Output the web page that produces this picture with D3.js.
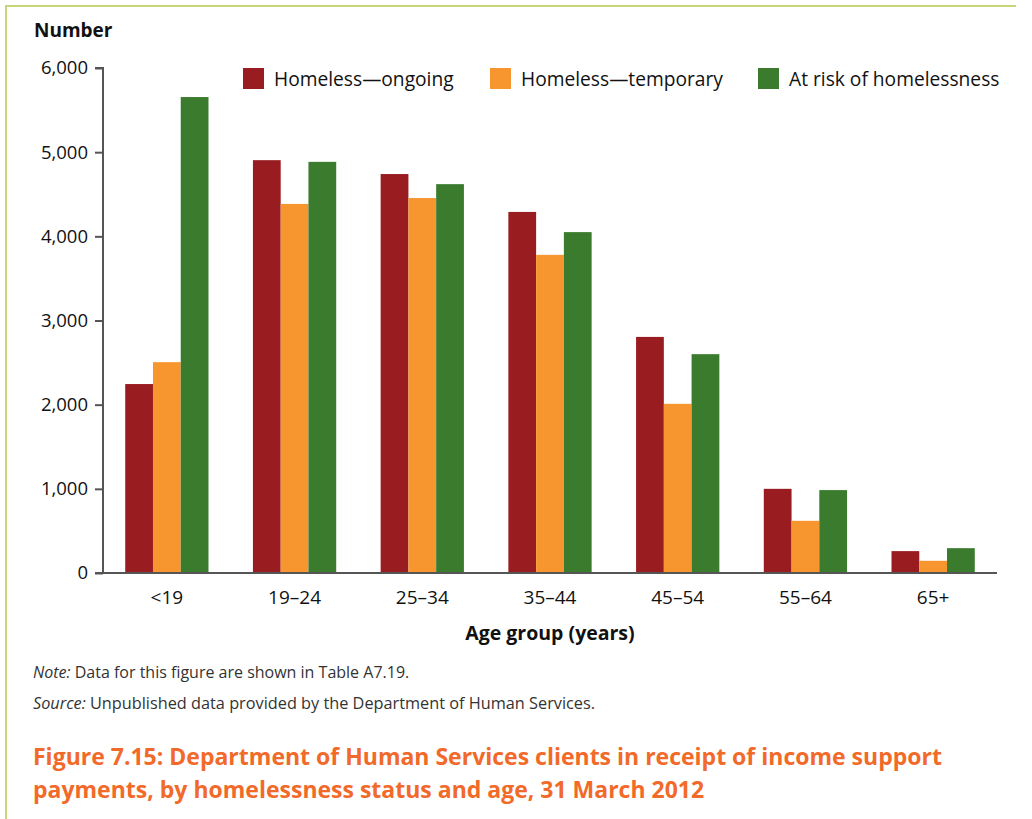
<!DOCTYPE html>
<html>
<head>
<meta charset="utf-8">
<script src="https://cdn.jsdelivr.net/npm/d3@7"></script>
<style>
  html, body { margin: 0; padding: 0; background: #fff; }
  svg { display: block; }
  text { font-family: "Open Sans", "Noto Sans", sans-serif; }
</style>
</head>
<body>
<svg id="chart" width="1032" height="819"></svg>
<script>
// Age groups and client counts by homelessness status
const ageGroups = ["<19", "19–24", "25–34", "35–44", "45–54", "55–64", "65+"];
const seriesNames = ["Homeless—ongoing", "Homeless—temporary", "At risk of homelessness"];
const ongoing   = [2245, 4905, 4740, 4290, 2805, 1000, 260];
const temporary = [2505, 4385, 4455, 3780, 2010,  620, 145];
const atRisk    = [5655, 4885, 4620, 4050, 2600,  985, 295];
const yTicks = [0, 1000, 2000, 3000, 4000, 5000, 6000];
const seriesColors = ["#991c20", "#f7962f", "#3a7b2d"];

const values = [ongoing, temporary, atRisk];
const data = ageGroups.map((g, i) => ({
  group: g,
  bars: seriesNames.map((s, j) => ({ key: s, value: values[j][i] }))
}));

const svg = d3.select("#chart");

// frame lines along the top and left edges
svg.append("line").attr("x1", 6).attr("y1", 6).attr("x2", 1016).attr("y2", 6)
  .attr("stroke", "#c7d67a").attr("stroke-width", 2);
svg.append("line").attr("x1", 6).attr("y1", 5).attr("x2", 6).attr("y2", 819)
  .attr("stroke", "#c7d67a").attr("stroke-width", 2);

const plotLeft = 103, plotRight = 997, plotTop = 68, plotBottom = 573;

const x0 = d3.scaleBand().domain(ageGroups).range([plotLeft, plotRight])
  .paddingInner(0.348).paddingOuter(0.174);
const x1 = d3.scaleBand().domain(seriesNames).range([0, x0.bandwidth()]);
const y = d3.scaleLinear().domain([0, 6000]).range([plotBottom, plotTop]);
const color = d3.scaleOrdinal().domain(seriesNames).range(seriesColors);

// bars
const groups = svg.append("g").selectAll("g").data(data).join("g")
  .attr("transform", d => `translate(${x0(d.group)},0)`);
groups.selectAll("rect").data(d => d.bars).join("rect")
  .attr("x", d => x1(d.key))
  .attr("width", x1.bandwidth())
  .attr("y", d => y(d.value))
  .attr("height", d => y(0) - y(d.value))
  .attr("fill", d => color(d.key));

// y axis
const yAxis = svg.append("g").attr("transform", `translate(${plotLeft},0)`)
  .call(d3.axisLeft(y).tickValues(yTicks).tickSize(8).tickPadding(7)
    .tickFormat(d3.format(",")));
yAxis.select(".domain").attr("stroke", "#555").attr("stroke-width", 2)
  .attr("d", `M-8,${plotTop}H0V${plotBottom}`);
yAxis.selectAll(".tick line").attr("stroke", "#555").attr("stroke-width", 2);
yAxis.selectAll(".tick text").attr("font-size", 18.5).attr("fill", "#111")
  .attr("font-family", "'Open Sans', sans-serif");

// x axis
const xAxis = svg.append("g").attr("transform", `translate(0,${plotBottom})`)
  .call(d3.axisBottom(x0).tickSize(0).tickPadding(18));
xAxis.select(".domain").attr("stroke", "#555").attr("stroke-width", 2)
  .attr("d", `M${plotLeft - 8},0H${plotRight}`);
xAxis.selectAll(".tick text").attr("font-size", 19).attr("fill", "#111")
  .attr("font-family", "'Open Sans', sans-serif");

// axis titles
svg.append("text").attr("x", 34).attr("y", 37)
  .attr("font-size", 19).attr("font-weight", "bold").attr("fill", "#111")
  .text("Number");
svg.append("text").attr("x", (plotLeft + plotRight) / 2).attr("y", 640)
  .attr("text-anchor", "middle")
  .attr("font-size", 19.5).attr("font-weight", "bold").attr("fill", "#111")
  .text("Age group (years)");

// legend
const legendX = [243, 490, 758];
const legend = svg.append("g").selectAll("g").data(seriesNames).join("g")
  .attr("transform", (d, i) => `translate(${legendX[i]},68)`);
legend.append("rect").attr("width", 21).attr("height", 21)
  .attr("fill", d => color(d));
legend.append("text").attr("x", 31).attr("y", 18)
  .attr("font-size", 19.2).attr("fill", "#111").text(d => d);

// notes
const note = svg.append("text").attr("x", 33).attr("y", 678)
  .attr("font-size", 16).attr("fill", "#333");
note.append("tspan").attr("font-style", "italic").text("Note:");
note.append("tspan").text(" Data for this figure are shown in Table A7.19.");
const source = svg.append("text").attr("x", 33).attr("y", 709)
  .attr("font-size", 16.3).attr("fill", "#333");
source.append("tspan").attr("font-style", "italic").text("Source:");
source.append("tspan").text(" Unpublished data provided by the Department of Human Services.");

// figure caption
const caption = [
  "Figure 7.15: Department of Human Services clients in receipt of income support",
  "payments, by homelessness status and age, 31 March 2012"
];
svg.append("g").selectAll("text").data(caption).join("text")
  .attr("x", 33).attr("y", (d, i) => 765 + i * 33)
  .attr("font-size", 23).attr("font-weight", "bold").attr("fill", "#f26a2a")
  .text(d => d);
</script>
</body>
</html>
